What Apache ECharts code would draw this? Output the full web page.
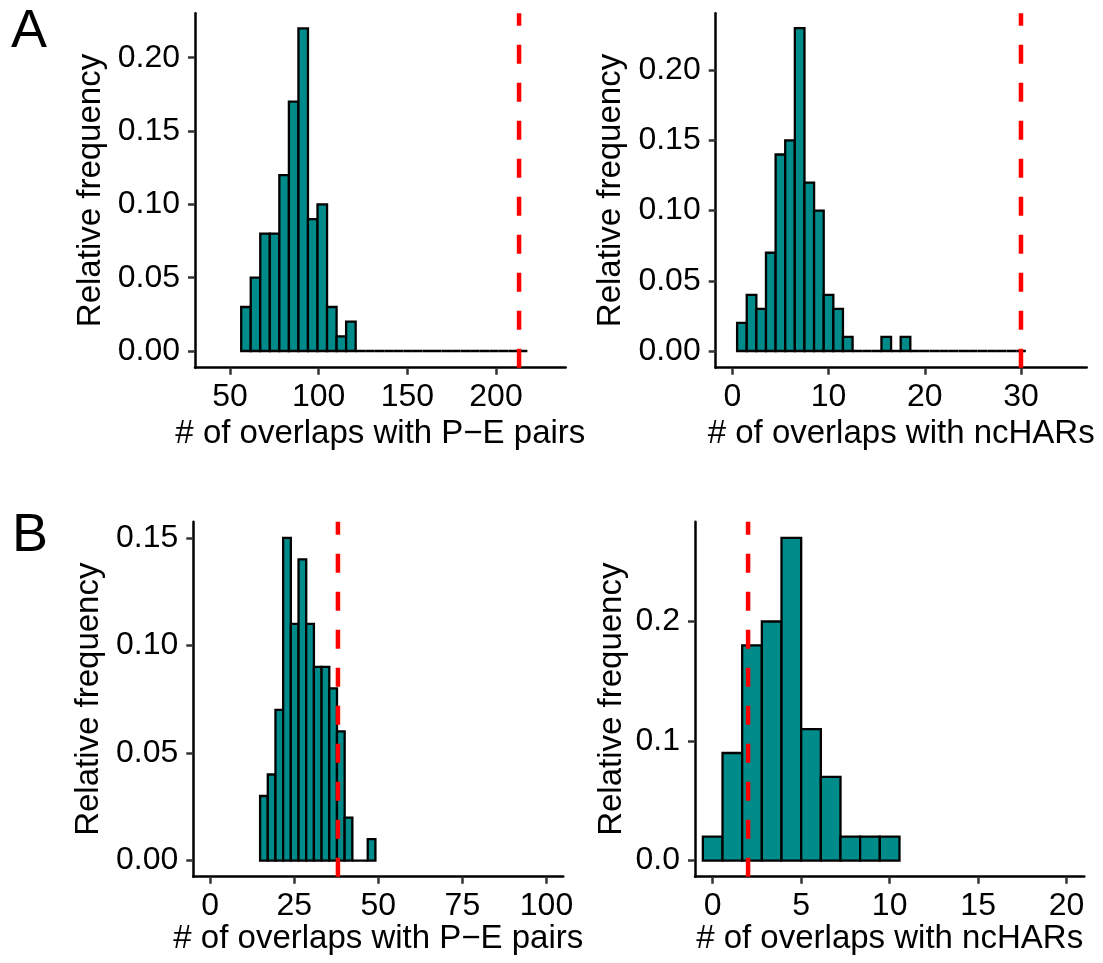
<!DOCTYPE html>
<html><head><meta charset="utf-8">
<script src="https://cdn.jsdelivr.net/npm/echarts@6/dist/echarts.min.js"></script>
<style>html,body{margin:0;padding:0;background:#fff}#c{width:1103px;height:963px}</style>
</head><body><div id="c"></div>
<script>
// ---------- DATA ----------
// Panel A, left: overlaps with P–E pairs (30 bins, centred from 59 to 215)
const aPeBinCentres = [59, 215];
const aPeFreq = [0.03,0.05,0.08,0.08,0.12,0.17,0.22,0.09,0.10,0.03,0.01,0.02,0,0,0,0,0,0,0,0,0,0,0,0,0,0,0,0,0,0];
const aPeObserved = 213;
const aPeXTicks = [50,100,150,200];
// Panel A, right: overlaps with ncHARs (30 bins, centred from 1 to 30)
const aHarBinCentres = [1, 30];
const aHarFreq = [0.02,0.04,0.03,0.07,0.14,0.15,0.23,0.12,0.10,0.04,0.03,0.01,0,0,0,0.01,0,0.01,0,0,0,0,0,0,0,0,0,0,0,0];
const aHarObserved = 30;
const aHarXTicks = [0,10,20,30];
const aYTicks = [0,0.05,0.10,0.15,0.20];
// Panel B, left: overlaps with P–E pairs (15 bins, centred from 16 to 48)
const bPeBinCentres = [16, 48];
const bPeFreq = [0.03,0.04,0.07,0.15,0.11,0.14,0.11,0.09,0.09,0.08,0.06,0.02,0,0,0.01];
const bPeObserved = 38;
const bPeXTicks = [0,25,50,75,100];
const bPeYTicks = [0,0.05,0.10,0.15];
// Panel B, right: overlaps with ncHARs (10 bins, centred from 0 to 10)
const bHarBinCentres = [0, 10];
const bHarFreq = [0.02,0.09,0.18,0.20,0.27,0.11,0.07,0.02,0.02,0.02];
const bHarObserved = 2;
const bHarXTicks = [0,5,10,15,20];
const bHarYTicks = [0,0.1,0.2];

const xTitlePE = '# of overlaps with P\u2212E pairs';
const xTitleHAR = '# of overlaps with ncHARs';
const yTitle = 'Relative frequency';

// ---------- BUILD ----------
const FONT = '"Liberation Sans", Arial, Helvetica, sans-serif';
function bins(centres, freq){
  const w = (centres[1]-centres[0])/(freq.length-1);
  return freq.map((f,i)=>[centres[0]+(i-0.5)*w, centres[0]+(i+0.5)*w, f]);
}
const panels = [
  {grid:{left:195, top:13.3, width:370.7, height:354.4}, xr:[30.26,239.3], yr:[-0.01139,0.2303],
   xt:aPeXTicks, yt:aYTicks, dec:2, data:bins(aPeBinCentres,aPeFreq), obs:aPeObserved, xname:xTitlePE, xgap:50, ygap:88},
  {grid:{left:715.7, top:13.3, width:371, height:354.4}, xr:[-1.725,36.83], yr:[-0.0119,0.2406],
   xt:aHarXTicks, yt:aYTicks, dec:2, data:bins(aHarBinCentres,aHarFreq), obs:aHarObserved, xname:xTitleHAR, xgap:50, ygap:88},
  {grid:{left:193.3, top:521.7, width:370, height:355}, xr:[-5,105], yr:[-0.0075,0.1575],
   xt:bPeXTicks, yt:bPeYTicks, dec:2, data:bins(bPeBinCentres,bPeFreq), obs:bPeObserved, xname:xTitlePE, xgap:45, ygap:88},
  {grid:{left:695, top:521.7, width:389.3, height:355}, xr:[-1,21], yr:[-0.0135,0.2835],
   xt:bHarXTicks, yt:bHarYTicks, dec:1, data:bins(bHarBinCentres,bHarFreq), obs:bHarObserved, xname:xTitleHAR, xgap:45, ygap:67}
];

const grid=[], xAxis=[], yAxis=[], series=[];
panels.forEach((p,i)=>{
  grid.push(p.grid);
  xAxis.push({type:'value', gridIndex:i, min:p.xr[0], max:p.xr[1],
    axisLine:{show:true, onZero:false, lineStyle:{color:'#000', width:2.5}},
    axisTick:{show:true, length:7, customValues:p.xt, lineStyle:{color:'#333', width:2.5}},
    axisLabel:{customValues:p.xt, fontSize:32, color:'#000', fontFamily:FONT, margin:13},
    splitLine:{show:false},
    name:p.xname, nameLocation:'middle', nameGap:p.xgap,
    nameTextStyle:{fontSize:33, color:'#000', fontFamily:FONT}});
  yAxis.push({type:'value', gridIndex:i, min:p.yr[0], max:p.yr[1],
    axisLine:{show:true, onZero:false, lineStyle:{color:'#000', width:2.5}},
    axisTick:{show:true, length:7, customValues:p.yt, lineStyle:{color:'#333', width:2.5}},
    axisLabel:{customValues:p.yt, fontSize:32, color:'#000', fontFamily:FONT, margin:15,
      formatter:(v)=>Number(v).toFixed(p.dec)},
    splitLine:{show:false},
    name:yTitle, nameLocation:'middle', nameGap:p.ygap,
    nameTextStyle:{fontSize:33, color:'#000', fontFamily:FONT}});
  series.push({type:'custom', xAxisIndex:i, yAxisIndex:i, data:p.data, encode:{x:[0,1], y:2},
    renderItem:(params, api)=>{
      const a = api.coord([api.value(0), api.value(2)]);
      const b = api.coord([api.value(1), 0]);
      return {type:'rect', shape:{x:a[0], y:a[1], width:b[0]-a[0], height:b[1]-a[1]},
        style:{fill:'#008B8B', stroke:'#000', lineWidth:2.3}};
    }, z:2});
  series.push({type:'line', xAxisIndex:i, yAxisIndex:i, data:[[p.obs, p.yr[0]],[p.obs, p.yr[1]]],
    symbol:'none', silent:true, lineStyle:{color:'#FF0000', width:4.5, type:[19,19]}, z:5});
});

const chart = echarts.init(document.getElementById('c'), null, {renderer:'canvas'});
chart.setOption({
  animation:false, backgroundColor:'#fff',
  grid, xAxis, yAxis, series,
  graphic:[
    {type:'text', left:11, top:5, style:{text:'A', fontSize:54, fill:'#000', fontFamily:FONT}},
    {type:'text', left:12, top:509, style:{text:'B', fontSize:54, fill:'#000', fontFamily:FONT}}
  ]
});
</script></body></html>
